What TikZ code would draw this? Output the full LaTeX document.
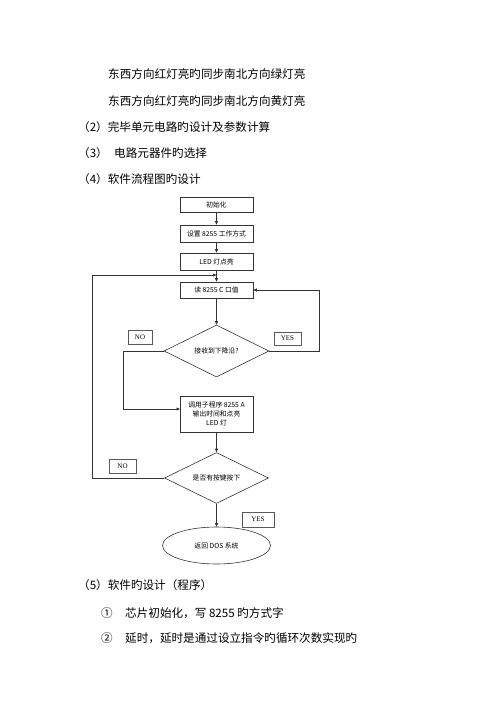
\documentclass[tikz,border=0pt]{standalone}
\usepackage{fontspec}
\setmainfont{Noto Sans CJK SC}
\newfontfamily\lat{Liberation Serif}
\usetikzlibrary{shapes.geometric,arrows.meta}
\begin{document}
\begin{tikzpicture}[x=1pt,y=-1pt,
  txt/.style={anchor=west,inner sep=0pt,font=\fontsize{11.6}{12}\selectfont,text=black},
  fbox/.style={draw=black!80,line width=0.6pt,minimum width=73pt,inner sep=1pt,font=\fontsize{6.8}{9}\selectfont,align=center,text=black},
  fdia/.style={draw=black!80,line width=0.6pt,diamond,aspect=2,minimum width=105pt,minimum height=52pt,inner sep=0pt,font=\fontsize{6.8}{9}\selectfont,text=black},
  lbl/.style={draw=black!65,line width=0.5pt,inner sep=0pt,font=\lat\fontsize{7}{8}\selectfont,text=black},
  conn/.style={draw=black!80,line width=0.6pt},
  arr/.style={conn,-{Triangle[length=3.5pt,width=3pt]}}]
\useasboundingbox (0,0) rectangle (500,708);

\node[txt] (l1) at (108,74) {东西方向红灯亮旳同步南北方向绿灯亮};
\node[txt] (l2) at (108,101) {东西方向红灯亮旳同步南北方向黄灯亮};
\node[txt] (l3) at (78,127) {（2）完毕单元电路旳设计及参数计算};
\node[txt] (l4) at (78,153) {（3）};
\node[txt] (l4b) at (114,153) {电路元器件旳选择};
\node[txt] (l5) at (78,179) {（4）软件流程图旳设计};

\node[fbox,minimum height=15pt] (init) at (216.5,204.5) {初始化};
\node[fbox,minimum height=17pt] (setm) at (216.5,233.5) {设置 8255 工作方式};
\node[fbox,minimum height=17pt] (led) at (216.5,261.5) {LED 灯点亮};
\node[fbox,minimum height=16pt] (read) at (216.5,290) {读 8255 C 口值};
\node[fdia] (d1) at (216.5,351) {接收到下降沿?};
\node[fbox,minimum height=36pt] (call) at (216.5,414) {调用子程序 8255 A\\输出时间和点亮\\LED 灯};
\node[fdia,minimum width=104pt,minimum height=51pt] (d2) at (216.5,478) {是否有按键按下};
\node[draw=black!80,line width=0.6pt,ellipse,minimum width=108pt,minimum height=37pt,inner sep=0pt,font=\fontsize{6.8}{9}\selectfont,text=black] (dos) at (216.5,545.5) {返回 DOS 系统};

\node[lbl,minimum width=24pt,minimum height=14pt] (no1) at (140,337) {NO};
\node[lbl,minimum width=27pt,minimum height=13pt] (yes1) at (287.5,338.5) {YES};
\node[lbl,minimum width=27pt,minimum height=14pt] (no2) at (122.5,466) {NO};
\node[lbl,minimum width=32pt,minimum height=15pt] (yes2) at (258,519.5) {YES};

\coordinate (j1) at (216.5,275);
\coordinate (cin) at (180,409);

\draw[arr] (init) -- (setm);
\draw[arr] (setm) -- (led);
\draw[arr] (led) -- (read);
\draw[arr] (read) -- (d1);
\draw[arr] (d1.east) -- (319,351) |- (read.east);
\draw[arr] (d1.west) -- (123,351) |- (cin);
\draw[arr] (call) -- (d2);
\draw[arr] (d2.west) -- (92,478) |- (j1);
\draw[arr] (d2) -- (dos);

\node[txt] (l6) at (78,585) {（5）软件旳设计（程序）};
\node[txt] (c1) at (101,613) {①};
\node[txt] (l7) at (125,613) {芯片初始化，写 8255 旳方式字};
\node[txt] (c2) at (101,638) {②};
\node[txt] (l8) at (125,638) {延时，延时是通过设立指令旳循环次数实现旳};
\end{tikzpicture}
\end{document}
